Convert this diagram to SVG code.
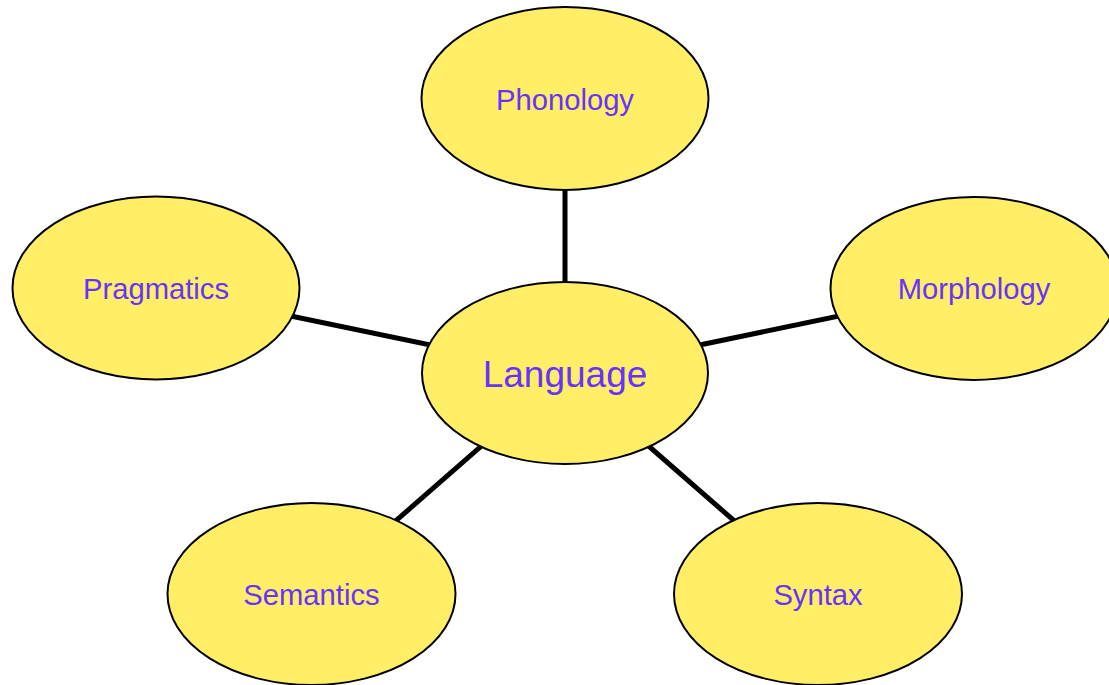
<svg xmlns="http://www.w3.org/2000/svg" width="1109" height="685" viewBox="0 0 1109 685">
<style>
.node ellipse{fill:#FFEE66;stroke:#000;stroke-width:2}
.node text{font-family:"Liberation Sans",Arial,sans-serif;font-size:29.2px;fill:#6633FF;text-anchor:middle}
#language text{font-size:37px}
#connectors line{stroke:#000;stroke-width:5}
</style>
<rect width="1109" height="685" fill="#fff"/>
<g id="connectors">
<line x1="565" y1="98" x2="565" y2="373"/>
<line x1="156" y1="288" x2="565" y2="373"/>
<line x1="974" y1="288" x2="565" y2="373"/>
<line x1="312" y1="594" x2="565" y2="373"/>
<line x1="818" y1="594" x2="565" y2="373"/>
</g>
<g id="phonology" class="node"><ellipse cx="565" cy="98.5" rx="143.5" ry="91.5"/><text x="565" y="110">Phonology</text></g>
<g id="pragmatics" class="node"><ellipse cx="156" cy="288" rx="143.5" ry="91.5"/><text x="156" y="299">Pragmatics</text></g>
<g id="morphology" class="node"><ellipse cx="974" cy="288.5" rx="143.5" ry="91.5"/><text x="974" y="299">Morphology</text></g>
<g id="language" class="node"><ellipse cx="565" cy="373" rx="143" ry="91"/><text x="565" y="387">Language</text></g>
<g id="semantics" class="node"><ellipse cx="311.5" cy="594" rx="144" ry="91"/><text x="311.5" y="605">Semantics</text></g>
<g id="syntax" class="node"><ellipse cx="818" cy="594" rx="144" ry="91"/><text x="818" y="605">Syntax</text></g>
</svg>
